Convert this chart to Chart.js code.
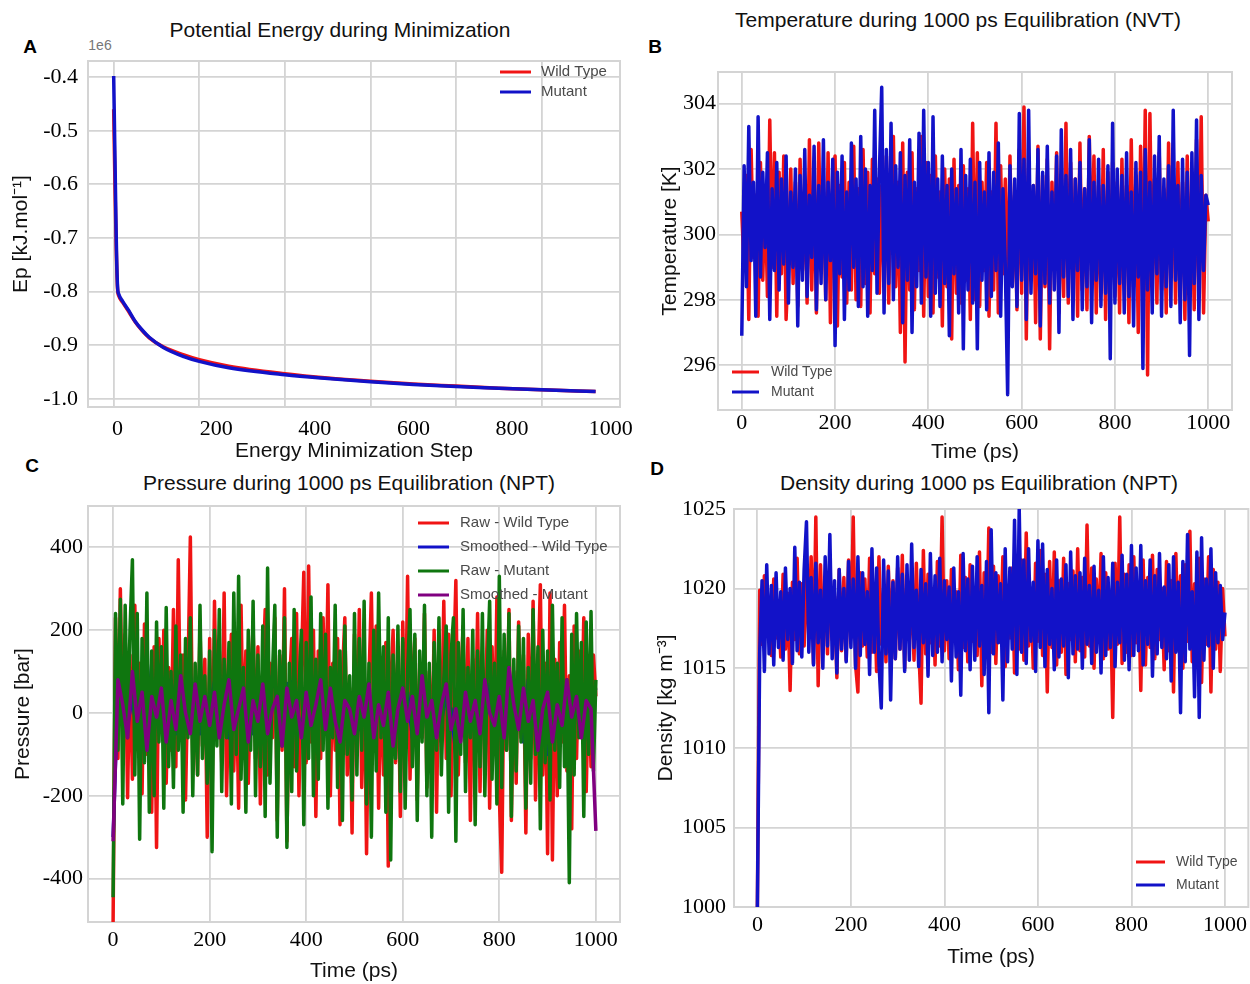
<!DOCTYPE html>
<html>
<head>
<meta charset="utf-8">
<script src="https://cdn.jsdelivr.net/npm/chart.js@4.4.1/dist/chart.umd.min.js"></script>
<style>
  html, body { margin: 0; overflow: hidden; }
  body { width: 1250px; height: 984px; background: #fff; position: relative; font-family: "Liberation Sans", Arial, sans-serif; }
  canvas { position: absolute; }
  .txt { position: absolute; white-space: nowrap; transform: translate(-50%, -50%); color: #111; }
  .title { font-size: 21px; }
  .panel { font-size: 19px; font-weight: bold; color: #000; }
</style>
</head>
<body>
<div class="txt panel" style="left:30px;top:47px">A</div>
<div class="txt panel" style="left:655px;top:47px">B</div>
<div class="txt panel" style="left:32px;top:466px">C</div>
<div class="txt panel" style="left:657px;top:469px">D</div>

<div class="txt title" style="left:340px;top:30px">Potential Energy during Minimization</div>
<div class="txt title" style="left:958px;top:20px">Temperature during 1000 ps Equilibration (NVT)</div>
<div class="txt title" style="left:349px;top:483px">Pressure during 1000 ps Equilibration (NPT)</div>
<div class="txt title" style="left:979px;top:483px">Density during 1000 ps Equilibration (NPT)</div>
<div class="txt" style="left:100px;top:45px;font-size:14px;color:#777">1e6</div>

<canvas id="chartA" width="640" height="430" style="left:0;top:40px"></canvas>
<canvas id="chartB" width="610" height="430" style="left:640px;top:40px"></canvas>
<canvas id="chartC" width="640" height="494" style="left:0;top:490px"></canvas>
<canvas id="chartD" width="614" height="494" style="left:640px;top:490px"></canvas>

<script>
// ---- Panel A: potential energy (units of 1e6 kJ/mol) vs minimization step
const minSteps = [0, 3, 6, 9, 12, 21, 35, 50, 66, 83, 116, 164, 200, 269, 400, 500, 600, 700, 800, 900, 1000, 1126];
const epWildType = [-0.46, -0.60, -0.72, -0.795, -0.808, -0.820, -0.837, -0.856, -0.872, -0.886, -0.903, -0.918,
  -0.927, -0.939, -0.953, -0.961, -0.967, -0.972, -0.976, -0.980, -0.983, -0.986];
const epMutant = [-0.398, -0.55, -0.70, -0.79, -0.805, -0.818, -0.835, -0.855, -0.871, -0.885, -0.904, -0.921,
  -0.930, -0.942, -0.955, -0.962, -0.968, -0.973, -0.977, -0.980, -0.983, -0.986];

// ---- Panel B: temperature (K), one value every 5 ps
const tempStep = 5;
const tempWildType = [
  300.7, 298.9, 301.8, 297.4, 302.6, 299.3, 301.2, 297.5, 302.2, 298.6, 301.5, 298.1, 303.5, 299.0, 302.5, 297.5, 301.9, 298.8, 302.4, 297.4,
  299.2, 302.0, 298.5, 301.6, 297.8, 302.3, 298.9, 301.4, 297.9, 302.9, 298.3, 301.7, 297.6, 302.8, 299.1, 301.3, 298.0, 302.5, 297.3, 301.8,
  302.4, 297.2, 301.5, 298.7, 302.2, 297.9, 301.6, 298.3, 302.7, 298.0, 301.4, 297.8, 302.6, 298.5, 301.9, 297.6, 302.3, 298.8, 301.7, 298.2,
  301.5, 298.6, 302.4, 297.9, 302.1, 303.0, 298.4, 301.6, 297.0, 302.8, 296.1, 301.9, 298.3, 302.5, 297.7, 301.4, 298.9, 303.0, 297.5, 302.2,
  298.1, 301.8, 297.6, 302.4, 298.7, 301.3, 297.2, 302.0, 298.4, 301.7, 296.8, 302.3, 298.2, 301.5, 297.9, 302.1, 298.6, 301.4, 297.4, 303.4,
  298.0, 302.5, 297.8, 301.6, 298.9, 302.2, 297.5, 301.3, 298.3, 303.4, 297.6, 302.1, 298.8, 301.7, 297.9, 302.4, 298.5, 301.2, 297.7, 302.6,
  298.2, 303.9, 296.8, 302.0, 298.6, 301.5, 297.3, 302.7, 296.8, 301.8, 298.4, 302.3, 296.5, 301.6, 298.9, 302.5, 297.6, 301.4, 298.1, 303.4,
  297.9, 302.2, 298.6, 301.7, 297.5, 302.8, 298.3, 301.4, 297.7, 303.0, 298.9, 302.4, 297.6, 301.5, 298.2, 302.6, 297.4, 301.9, 298.5, 302.2,
  298.1, 301.6, 297.6, 302.3, 298.8, 301.5, 297.3, 302.9, 298.4, 301.8, 297.0, 302.7, 298.2, 303.8, 295.7, 303.7, 298.6, 301.7, 297.9, 302.5,
  298.3, 301.4, 297.6, 302.8, 298.7, 301.9, 297.9, 302.2, 298.5, 301.6, 297.4, 302.4, 298.8, 301.5, 297.7, 302.9, 298.2, 303.6, 297.6, 301.2,
  300.4];
const tempMutant = [
  296.9, 302.1, 298.4, 303.3, 299.2, 301.6, 297.5, 303.6, 298.7, 301.9, 299.6, 302.5, 297.4, 301.4, 298.9, 302.2, 298.3, 301.7, 299.1, 302.4,
  297.9, 301.3, 299.0, 302.0, 297.2, 301.8, 298.6, 302.6, 298.1, 301.2, 299.3, 302.7, 297.7, 301.5, 298.5, 302.9, 298.0, 301.6, 299.2, 302.3,
  296.6, 301.9, 298.8, 302.4, 297.4, 301.3, 298.3, 302.8, 299.0, 301.7, 297.8, 303.0, 298.4, 302.0, 297.5, 301.5, 298.9, 303.8, 298.2, 301.9,
  304.5, 297.6, 302.6, 298.5, 303.4, 298.0, 302.1, 299.0, 302.5, 297.3, 301.8, 298.6, 302.9, 297.0, 301.6, 298.4, 303.1, 297.9, 303.8, 298.7,
  302.2, 297.5, 303.6, 298.2, 301.7, 297.8, 302.4, 298.5, 301.5, 296.9, 302.0, 298.8, 301.4, 297.6, 302.6, 296.5, 301.8, 298.3, 302.3, 297.9,
  301.6, 296.5, 302.2, 298.6, 301.3, 297.7, 302.5, 298.1, 301.9, 298.9, 302.8, 297.5, 301.4, 299.0, 295.1, 302.1, 298.4, 301.7, 297.8, 303.7,
  298.6, 302.3, 297.4, 303.8, 298.2, 301.5, 298.8, 302.6, 297.2, 301.9, 298.5, 302.7, 297.9, 301.3, 298.3, 302.4, 297.0, 303.2, 298.7, 301.8,
  298.1, 302.6, 297.4, 301.7, 298.9, 302.2, 297.7, 301.4, 298.4, 302.9, 297.3, 301.6, 298.6, 302.3, 297.8, 301.5, 298.2, 302.1, 296.2, 303.4,
  297.9, 302.0, 298.5, 301.8, 297.6, 302.5, 298.1, 301.3, 297.2, 302.2, 298.7, 301.9, 295.9, 302.6, 298.3, 301.6, 297.6, 302.4, 298.8, 303.0,
  297.5, 301.7, 298.4, 302.1, 297.8, 303.8, 298.6, 301.5, 297.3, 302.3, 298.0, 301.9, 296.3, 302.5, 298.5, 303.5, 297.4, 301.8, 298.9, 301.2,
  300.9];

// ---- Panel C: pressure (bar), raw every 5 ps, smoothed every 10 ps
const presStep = 5;
const smoothStep = 10;
const presTicks = [-400, -200, 0, 200, 400];
const presRawWildType = [
  -505, 230, -110, 300, -70, 190, -205, 140, -160, 260, -60, 120, -195, 215, -100, 70, -240, 160, -325, 180,
  -40, 200, -170, 110, -90, 250, -130, 370, -60, 140, -210, 90, 425, -120, 60, -150, 210, -80, 130, -300,
  180, -210, 270, -60, 150, -120, 290, -200, 40, 190, -140, 100, -230, 260, -90, 150, -170, 70, 210, -110,
  160, -220, 80, 250, -150, 120, -60, 230, -260, 140, -90, 300, -310, 60, 180, -130, 240, -200, 110, 340,
  -120, 355, -70, 200, -250, 150, -110, 230, -30, 310, -200, 120, -90, 180, -270, 90, 230, -150, 60, -290,
  190, -100, 250, -180, 140, -340, 80, 290, -60, 210, -230, 110, -150, 170, -370, 60, 200, -120, 150, -250,
  220, -90, 330, -160, 80, 180, -210, 120, -60, 240, -180, 100, -130, 200, -240, 150, -70, 270, -110, 190,
  -200, 90, 320, -150, 60, 210, -120, 180, -260, 130, -80, 240, -190, 110, -50, 200, -230, 160, -100, 280,
  -200, -385, 150, -90, 250, -260, 100, -170, 220, -60, 140, -290, 190, -110, 270, -210, 80, 310, -150, 120,
  -340, 290, -355, 130, -200, 170, -70, 260, -140, 90, -280, 210, -110, 150, -60, 230, -190, 80, -130, 140,
  40];
const presSmoothWildType = [
  -300, 60, 110, -30, 40, -70, 90, 130, -20, 50,
  -40, 30, 80, -50, 20, 60, 90, -30, -50, 40,
  10, 75, -20, 50, -60, 30, 80, -10, 40, -50,
  20, 60, -30, 90, 40, -20, 70, 75, 10, -40,
  60, -10, 30, 50, -50, 20, 70, -30, 40, 0,
  30, -40, 60, 10, -70, 50, -20, 40, -30, 20,
  -10, 50, -60, 30, 70, -40, 20, 50, -20, 40,
  10, -100, 30, 60, -40, 20, 50, -30, 70, -40,
  20, -50, 60, -20, 40, -70, 80, 10, -30, 50,
  -100, 30, -20, 60, 40, -50, 20, 70, -10, 30,
  60];
const presRawMutant = [
  -445, 240, -90, 275, -220, 260, -60, 200, 370, -150, 240, -305, 180, -120, 290, -240, 150, -200, 220, -70,
  160, -230, 255, -130, 100, -180, 210, -90, 140, -240, 180, -60, 230, -200, 120, -150, 260, -110, 90, -170,
  150, -335, 200, -80, 250, -190, 130, -60, 170, -220, 290, -100, 330, -160, 110, -240, 200, -90, 270, -200,
  140, -130, 210, -250, 350, -170, 90, 260, -300, 150, -80, 230, -325, 120, -190, 250, -140, 60, 200, -270,
  170, -110, 280, -200, 130, -160, 240, -90, 190, -230, 110, -60, 260, -180, 150, -260, 210, -100, 90, -210,
  240, -150, 180, -90, 270, -220, 120, -300, 200, -140, 290, -60, 160, -240, 230, -355, 140, -110, 210, -190,
  180, -230, 100, 250, -130, 190, -260, 150, -70, 260, -200, 120, -300, 170, -90, 230, -150, 80, 210, -240,
  140, 230, -310, 170, -100, 250, -190, 110, -60, 200, -270, 150, -130, 240, -200, 90, 270, -160, 120, -220,
  330, -180, 190, -90, 240, -250, 130, -140, 210, -70, 180, -230, 110, -170, 250, -100, 160, -280, 200, -120,
  150, -210, 260, -90, 120, -180, 230, -130, 80, -410, 190, -150, 240, -60, 170, -250, 220, -100, 245, -140,
  80];
const presSmoothMutant = [
  -310, 80, 20, -60, 100, -20, 50, -90, 40, -10,
  60, -70, 30, -40, 90, 0, -50, 70, -20, 40,
  -30, 50, -60, 20, 80, -40, 10, 60, -70, 30,
  -20, 70, -50, 10, 40, -80, 60, -10, 30, -60,
  50, -30, 20, 80, -40, 60, -20, -70, 30, 10,
  -50, 40, -10, 70, -60, 20, -30, 50, -80, 10,
  60, -20, 40, -50, 90, -10, 30, -60, 20, 70,
  -40, 10, -70, 50, -20, 30, -50, 80, 0, -30,
  40, -60, 110, 20, -40, 60, -20, 30, -90, 10,
  50, -70, 20, -30, 80, -10, 40, -60, 30, 10,
  -285];

// ---- Panel D: density (kg m^-3), one value every 5 ps
const densStep = 5;
const densWildType = [
  1000.0, 1019.9, 1016.5, 1020.8, 1017.2, 1019.4, 1015.8, 1020.6, 1016.9, 1019.2, 1015.7, 1020.9, 1016.2, 1019.7, 1013.6, 1020.4, 1016.8, 1021.9, 1015.9, 1020.3,
  1016.4, 1021.1, 1017.0, 1022.0, 1015.3, 1024.5, 1013.9, 1021.5, 1016.6, 1020.2, 1015.9, 1021.6, 1016.8, 1019.5, 1014.4, 1021.2, 1016.1, 1020.7, 1015.5, 1021.8,
  1016.9, 1024.5, 1015.2, 1013.5, 1021.0, 1016.4, 1020.6, 1015.7, 1021.9, 1016.0, 1020.3, 1014.8, 1022.0, 1016.5, 1019.9, 1015.4, 1021.4, 1016.7, 1020.5, 1015.6,
  1021.3, 1016.2, 1022.1, 1015.0, 1020.6, 1016.8, 1019.7, 1015.5, 1021.6, 1016.3, 1012.8, 1022.4, 1015.9, 1020.9, 1016.6, 1020.0, 1015.2, 1021.7, 1016.4, 1024.5,
  1016.1, 1020.5, 1015.6, 1021.2, 1016.9, 1019.8, 1014.9, 1022.1, 1016.3, 1020.7, 1015.4, 1021.5, 1016.7, 1019.6, 1015.8, 1022.3, 1013.9, 1021.0, 1016.5, 1023.8,
  1016.0, 1021.4, 1015.3, 1020.8, 1016.6, 1022.0, 1015.1, 1020.2, 1016.9, 1021.3, 1014.7, 1020.6, 1016.2, 1021.8, 1015.5, 1023.5, 1016.4, 1020.0, 1015.0, 1021.6,
  1016.7, 1022.4, 1015.8, 1020.9, 1013.5, 1021.7, 1016.3, 1022.3, 1015.2, 1020.5, 1016.0, 1021.9, 1014.6, 1020.3, 1016.8, 1021.1, 1015.4, 1022.5, 1016.1, 1020.7,
  1015.7, 1024.0, 1016.4, 1021.3, 1015.0, 1020.6, 1016.9, 1022.2, 1015.6, 1021.0, 1016.2, 1019.8, 1011.9, 1021.6, 1016.5, 1024.5, 1015.3, 1020.9, 1016.0, 1021.5,
  1015.8, 1022.0, 1016.6, 1020.4, 1013.6, 1021.8, 1015.2, 1020.7, 1016.3, 1022.1, 1015.6, 1021.2, 1016.8, 1020.0, 1014.9, 1021.7, 1016.1, 1020.5, 1013.5, 1022.2,
  1016.4, 1020.8, 1015.0, 1021.5, 1016.7, 1023.6, 1015.4, 1020.3, 1016.0, 1021.9, 1014.1, 1020.6, 1016.5, 1022.0, 1013.5, 1021.2, 1016.2, 1020.4, 1014.8, 1020.0,
  1017.0];
const densMutant = [
  1000.0, 1016.0, 1020.5, 1014.8, 1021.5, 1015.9, 1020.2, 1015.2, 1021.0, 1016.3, 1019.8, 1015.5, 1021.3, 1016.8, 1020.0, 1015.3, 1022.6, 1016.1, 1020.4, 1015.7,
  1021.2, 1024.2, 1016.0, 1020.7, 1015.2, 1021.6, 1016.6, 1019.9, 1015.0, 1022.0, 1016.4, 1023.4, 1015.6, 1020.5, 1014.7, 1021.2, 1016.2, 1020.0, 1015.4, 1021.7,
  1016.3, 1020.6, 1015.0, 1022.0, 1015.8, 1021.0, 1016.5, 1019.8, 1014.6, 1022.5, 1016.0, 1021.3, 1015.3, 1012.5, 1021.8, 1015.9, 1021.1, 1013.0, 1020.4, 1015.6,
  1022.0, 1016.2, 1020.9, 1014.8, 1021.5, 1015.5, 1022.8, 1016.3, 1019.9, 1015.1, 1021.2, 1016.6, 1020.3, 1014.5, 1022.2, 1015.8, 1020.8, 1016.0, 1021.9, 1015.4,
  1020.5, 1016.8, 1020.1, 1014.2, 1021.3, 1015.7, 1019.8, 1013.3, 1022.2, 1016.1, 1020.6, 1014.9, 1021.4, 1015.5, 1022.0, 1016.4, 1020.2, 1014.6, 1021.7, 1012.2,
  1023.7, 1015.9, 1021.0, 1016.6, 1020.3, 1013.0, 1022.5, 1015.4, 1021.3, 1016.2, 1024.3, 1014.6, 1025.0, 1016.0, 1021.8, 1015.3, 1022.5, 1016.7, 1020.4, 1014.8,
  1023.0, 1016.3, 1022.8, 1015.1, 1021.2, 1016.5, 1020.0, 1014.9, 1021.8, 1015.7, 1020.6, 1016.4, 1021.5, 1014.4, 1022.3, 1015.9, 1020.8, 1016.2, 1021.0, 1015.0,
  1021.9, 1016.5, 1020.2, 1015.3, 1021.4, 1016.0, 1019.9, 1014.7, 1022.0, 1015.8, 1020.7, 1016.3, 1021.6, 1015.1, 1020.4, 1016.6, 1022.1, 1015.5, 1020.9, 1014.9,
  1022.7, 1015.8, 1021.3, 1016.1, 1022.7, 1015.2, 1020.5, 1016.5, 1021.8, 1014.5, 1020.8, 1015.9, 1022.2, 1016.3, 1020.1, 1015.6, 1021.5, 1014.2, 1022.0, 1016.0,
  1020.4, 1012.2, 1021.7, 1015.4, 1023.4, 1016.2, 1019.8, 1013.2, 1022.3, 1011.9, 1023.2, 1015.5, 1020.6, 1016.4, 1022.5, 1015.0, 1021.0, 1016.6, 1020.2, 1016.8,
  1018.5];

const RED = "#f01414";
const BLUE = "#1212c8";
const GREEN = "#0f760f";
const PURPLE = "#800080";
const gridColor = "#d4d4d4";
const serif = "'Liberation Serif', 'Times New Roman', serif";
const sans = "'Liberation Sans', Arial, sans-serif";

function series(values, step) {
  return values.map((v, i) => ({ x: i * step, y: v }));
}

function line(label, color, data, width) {
  return {
    label: label,
    data: data,
    borderColor: color,
    backgroundColor: color,
    borderWidth: width || 3.5,
    borderJoinStyle: "round",
    pointRadius: 0,
    fill: false,
    tension: 0
  };
}

// light frame round the plot area and a legend drawn inside it
const frameAndLegend = {
  id: "frameAndLegend",
  beforeDatasetsDraw(chart) {
    const a = chart.chartArea;
    const ctx = chart.ctx;
    ctx.save();
    ctx.strokeStyle = gridColor;
    ctx.lineWidth = 2;
    ctx.strokeRect(a.left, a.top, a.right - a.left, a.bottom - a.top);
    ctx.restore();
  },
  afterDraw(chart, args, opts) {
    const ctx = chart.ctx;
    ctx.save();
    ctx.font = opts.size + "px " + sans;
    ctx.textBaseline = "middle";
    chart.data.datasets.forEach((ds, i) => {
      const y = opts.y + i * opts.gap;
      ctx.strokeStyle = ds.borderColor;
      ctx.lineWidth = 3;
      ctx.beginPath();
      ctx.moveTo(opts.x, y);
      ctx.lineTo(opts.x + opts.len, y);
      ctx.stroke();
      ctx.fillStyle = "#4a4a4a";
      ctx.fillText(ds.label, opts.x + opts.textOffset, y);
    });
    ctx.restore();
  }
};

function tickFont() {
  return { family: serif, size: 22, lineHeight: 1 };
}

function titleFont() {
  return { family: sans, size: 21, lineHeight: 1.2 };
}

function xAxis(min, max, pad, height, text, titlePad) {
  return {
    type: "linear",
    position: "bottom",
    min: min,
    max: max,
    grid: { color: gridColor, lineWidth: 1.8, drawTicks: false },
    border: { display: false },
    ticks: {
      stepSize: 200, includeBounds: false, padding: pad, maxRotation: 0, autoSkip: false,
      color: "#000", font: tickFont(), callback: v => String(v)
    },
    title: { display: true, text: text, color: "#111", font: titleFont(), padding: { top: 0, bottom: titlePad } },
    afterFit: s => { s.height = height; }
  };
}

function yAxis(min, max, step, pad, width, text, titlePad, fmt) {
  return {
    type: "linear",
    position: "left",
    min: min,
    max: max,
    grid: { color: gridColor, lineWidth: 1.8, drawTicks: false },
    border: { display: false },
    ticks: {
      stepSize: step, includeBounds: false, padding: pad, autoSkip: false,
      color: "#000", font: tickFont(), callback: fmt || (v => String(v))
    },
    title: { display: true, text: text, color: "#111", font: titleFont(), padding: { top: titlePad, bottom: 0 } },
    afterFit: s => { s.width = width; }
  };
}

function baseOptions(padding, legend, scales) {
  return {
    responsive: false,
    animation: false,
    events: [],
    parsing: false,
    layout: { padding: padding },
    plugins: {
      legend: { display: false },
      tooltip: { enabled: false },
      frameAndLegend: legend
    },
    scales: scales
  };
}

// Panel A: the tick labels in the figure sit on their own spacing, apart from the grid
const axisA = xAxis(-60, 1183, 0, 0, "", 0);
axisA.ticks.display = false;
axisA.title.display = false;
const labelsA = xAxis(-60, 1019, 3, 63, "Energy Minimization Step", 6);
labelsA.grid = { display: false };

const dsA = [
  line("Wild Type", RED, minSteps.map((s, i) => ({ x: s, y: epWildType[i] }))),
  line("Mutant", BLUE, minSteps.map((s, i) => ({ x: s, y: epMutant[i] })))
];
dsA.forEach(d => { d.cubicInterpolationMode = "monotone"; });
dsA[0].order = 2;
dsA[1].order = 1;

new Chart(document.getElementById("chartA"), {
  type: "line",
  data: { datasets: dsA },
  options: baseOptions(
    { left: 0, top: 14, right: 20, bottom: 0 },
    { x: 500, y: 32, gap: 20, len: 31, textOffset: 41, size: 15 },
    {
      x: axisA,
      xl: labelsA,
      y: yAxis(-1.015, -0.37, 0.1, 10, 88, "Ep [kJ.mol\u207B\u00B9]", 9, v => v.toFixed(1))
    }
  ),
  plugins: [frameAndLegend]
});

// Panel B
const dsB = [
  line("Wild Type", RED, series(tempWildType, tempStep)),
  line("Mutant", BLUE, series(tempMutant, tempStep))
];
dsB[0].order = 2;
dsB[1].order = 1;

new Chart(document.getElementById("chartB"), {
  type: "line",
  data: { datasets: dsB },
  options: baseOptions(
    { left: 0, top: 32, right: 18, bottom: 0 },
    { x: 92, y: 332, gap: 20, len: 27, textOffset: 39, size: 14 },
    {
      x: xAxis(-51, 1051, 2, 60, "Time (ps)", 5),
      y: yAxis(294.63, 304.97, 2, 2, 78, "Temperature [K]", 18)
    }
  ),
  plugins: [frameAndLegend]
});

// Panel C
const dsC = [
  line("Raw - Wild Type", RED, series(presRawWildType, presStep)),
  line("Smoothed - Wild Type", BLUE, series(presSmoothWildType, smoothStep)),
  line("Raw - Mutant", GREEN, series(presRawMutant, presStep)),
  line("Smoothed - Mutant", PURPLE, series(presSmoothMutant, smoothStep))
];
dsC.forEach((d, i) => { d.order = dsC.length - i; });

const yC = yAxis(-505, 500, 200, 5, 88, "Pressure [bar]", 11);
yC.afterBuildTicks = s => { s.ticks = presTicks.map(v => ({ value: v })); };

new Chart(document.getElementById("chartC"), {
  type: "line",
  data: { datasets: dsC },
  options: baseOptions(
    { left: 0, top: 13, right: 20, bottom: 0 },
    { x: 418, y: 33, gap: 24, len: 31, textOffset: 42, size: 15 },
    {
      x: xAxis(-52, 1050, 7, 62, "Time (ps)", 0),
      y: yC
    }
  ),
  plugins: [frameAndLegend]
});

// Panel D
const dsD = [
  line("Wild Type", RED, series(densWildType, densStep)),
  line("Mutant", BLUE, series(densMutant, densStep))
];
dsD[0].order = 2;
dsD[1].order = 1;

new Chart(document.getElementById("chartD"), {
  type: "line",
  data: { datasets: dsD },
  options: baseOptions(
    { left: 0, top: 11, right: 1, bottom: 0 },
    { x: 496, y: 372, gap: 23, len: 29, textOffset: 40, size: 14 },
    {
      x: xAxis(-50, 1050, 7, 77, "Time (ps)", 14),
      y: yAxis(1000, 1025, 5, 8, 94, "Density [kg m\u207B\u00B3]", 14)
    }
  ),
  plugins: [frameAndLegend]
});
</script>
</body>
</html>
